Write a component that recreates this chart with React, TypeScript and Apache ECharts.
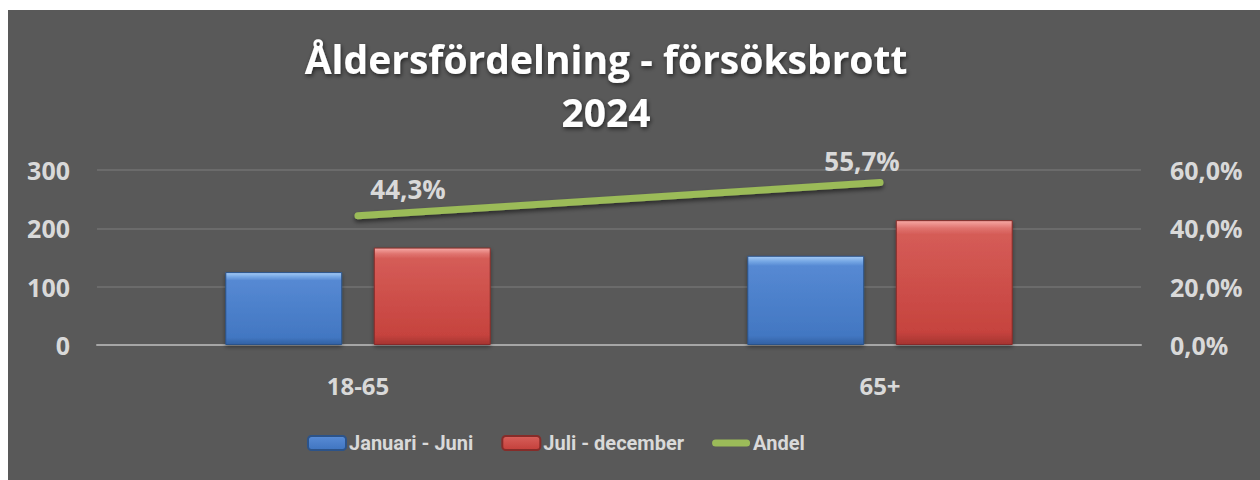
import React, { useEffect, useRef } from "react";
import * as echarts from "echarts";

const categories = ["18-65", "65+"];
const firstHalf = [125, 153];
const secondHalf = [167, 214];
const shareValues = [44.3, 55.7];
const shareLabels = ["44,3%", "55,7%"];
const leftTicks = [0, 100, 200, 300];
const rightTicks = ["0,0%", "20,0%", "40,0%", "60,0%"];
const seriesNames = ["Januari - Juni", "Juli - december", "Andel"];
const titleText = "Åldersfördelning - försöksbrott\n2024";

const FONT = "'Open Sans', sans-serif";
const LEGEND_FONT = "Roboto, 'Open Sans', sans-serif";
const LABEL = "#d9d9d9";
const GREEN = "#9bbb59";

const grad = (stops: [number, string][]) =>
  new echarts.graphic.LinearGradient(
    0, 0, 0, 1,
    stops.map(([offset, color]) => ({ offset, color }))
  );

const lineIcon =
  "path://M0,0L0.01,0L0.01,0.01Z M0,14L0.01,14L0.01,13.99Z M3.5,3.5L34.5,3.5A3.5,3.5 0 0 1 34.5,10.5L3.5,10.5A3.5,3.5 0 0 1 3.5,3.5Z";

export default function App() {
  const ref = useRef<HTMLDivElement>(null);
  useEffect(() => {
    if (!ref.current) return;
    const chart = echarts.init(ref.current, null, { renderer: "svg" });
    const blue = grad([
      [0, "#a6cbf5"],
      [0.06, "#74a6e4"],
      [0.11, "#5689d3"],
      [0.9, "#4277c2"],
      [1, "#3261a3"],
    ]);
    const red = grad([
      [0, "#f7aaa6"],
      [0.06, "#e0746f"],
      [0.11, "#d55c57"],
      [0.9, "#c6433e"],
      [1, "#a53431"],
    ]);
    chart.setOption({
      animation: false,
      backgroundColor: "#595959",
      textStyle: { fontFamily: FONT },
      title: {
        text: titleText,
        left: 593,
        textAlign: "center",
        top: 17,
        textStyle: {
          fontFamily: FONT,
          fontWeight: "bold",
          fontSize: 39,
          lineHeight: 53,
          color: "#ffffff",
          textShadowColor: "rgba(0,0,0,0.6)",
          textShadowBlur: 4,
          textShadowOffsetX: 1,
          textShadowOffsetY: 2,
        },
      },
      legend: {
        data: [
          { name: seriesNames[0] },
          { name: seriesNames[1] },
          { name: seriesNames[2], icon: lineIcon, itemStyle: { color: GREEN } },
        ],
        bottom: 22,
        left: 294,
        itemWidth: 38,
        itemHeight: 14,
        itemGap: 28,
        textStyle: {
          color: LABEL,
          fontSize: 20,
          fontWeight: "bold",
          fontFamily: LEGEND_FONT,
          padding: [0, 0, 0, -2],
        },
      },
      grid: { left: 89, right: 119, top: 160, bottom: 135 },
      xAxis: {
        type: "category",
        data: categories,
        axisLine: { lineStyle: { color: "#a6a6a6", width: 2 } },
        axisTick: { show: false },
        axisLabel: {
          color: LABEL,
          fontSize: 24,
          fontWeight: "bold",
          fontFamily: FONT,
          margin: 28,
        },
      },
      yAxis: [
        {
          type: "value",
          min: 0,
          max: 300,
          interval: 100,
          axisLine: { show: false },
          axisTick: { show: false },
          splitLine: { lineStyle: { color: "#727272", width: 1.5 } },
          axisLabel: {
            color: LABEL,
            fontSize: 25,
            fontWeight: "bold",
            fontFamily: FONT,
            margin: 27,
            formatter: (v: number) => String(leftTicks[Math.round(v / 100)] ?? v),
          },
        },
        {
          type: "value",
          min: 0,
          max: 60,
          interval: 20,
          position: "right",
          axisLine: { show: false },
          axisTick: { show: false },
          splitLine: { show: false },
          axisLabel: {
            color: LABEL,
            fontSize: 25,
            fontWeight: "bold",
            fontFamily: FONT,
            margin: 29,
            formatter: (v: number) => rightTicks[Math.round(v / 20)] ?? String(v),
          },
        },
      ],
      series: [
        {
          name: seriesNames[0],
          type: "bar",
          data: firstHalf,
          barWidth: "22.4%",
          barGap: "27%",
          itemStyle: {
            color: blue,
            borderColor: "#2c5389",
            borderWidth: 1,
            shadowColor: "rgba(0,0,0,0.4)",
            shadowBlur: 4,
            shadowOffsetY: 2,
          },
        },
        {
          name: seriesNames[1],
          type: "bar",
          data: secondHalf,
          barWidth: "22.4%",
          barGap: "27%",
          itemStyle: {
            color: red,
            borderColor: "#862c29",
            borderWidth: 1,
            shadowColor: "rgba(0,0,0,0.4)",
            shadowBlur: 4,
            shadowOffsetY: 2,
          },
        },
        {
          name: seriesNames[2],
          type: "line",
          yAxisIndex: 1,
          symbol: "circle",
          symbolSize: 1,
          showSymbol: true,
          data: shareValues.map((v, i) => ({
            value: v,
            label: {
              show: true,
              position: "top",
              offset: i === 0 ? [50, -8] : [-18, -3],
              formatter: () => shareLabels[i],
            },
          })),
          label: {
            show: true,
            color: LABEL,
            fontSize: 26,
            fontWeight: "bold",
            fontFamily: FONT,
          },
          lineStyle: {
            color: GREEN,
            width: 7,
            cap: "round",
            shadowColor: "rgba(0,0,0,0.5)",
            shadowBlur: 4,
            shadowOffsetY: 3,
          },
          itemStyle: { color: GREEN },
        },
      ],
    });
    return () => chart.dispose();
  }, []);
  return (
    <div
      ref={ref}
      style={{ position: "fixed", left: 8, top: 10, width: 1252, height: 470 }}
    />
  );
}
